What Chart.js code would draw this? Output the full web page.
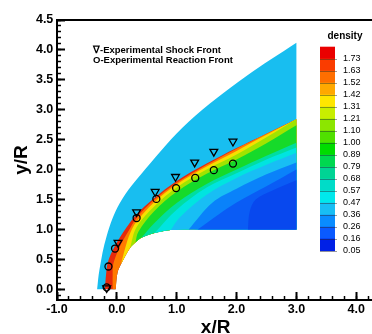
<!DOCTYPE html>
<html><head><meta charset="utf-8">
<script src="https://cdn.jsdelivr.net/npm/chart.js@4.4.1/dist/chart.umd.min.js"></script>
<style>html,body{margin:0;padding:0;background:#fff;overflow:hidden}#wrap{width:380px;height:334px}</style>
</head><body><div id="wrap"><canvas id="c" width="380" height="334"></canvas></div>
<script>
// ---- experimental data (x/R, y/R) ----
const shockFrontX = [-0.17, 0.02, 0.33, 0.64, 0.98, 1.30, 1.62, 1.94];
const shockFrontY = [0.02, 0.78, 1.29, 1.63, 1.88, 2.12, 2.30, 2.47];
const reactionFrontX = [-0.17, -0.14, -0.03, 0.33, 0.66, 0.99, 1.31, 1.62, 1.94];
const reactionFrontY = [0.03, 0.38, 0.68, 1.19, 1.51, 1.69, 1.86, 1.99, 2.10];

// ---- computed density field: iso-density edges ----
const bodyWall = [[-0.02,0],[0.01,0.27],[0.07,0.42],[0.22,0.69],[0.31,0.78],[0.41,0.86],[0.63,0.94],[0.9,0.99],[1.2,1.0],[1.35,1.0],[2.19,1.0],[3.0,1.0]];
const outerEdge = [[-0.33,0],[-0.29,0.33],[-0.17,0.89],[0.05,1.44],[0.47,2.0],[1.2,2.8],[2.16,3.56],[3.0,4.12]];
const shockEdge = [[-0.20,0],[-0.18,0.25],[-0.15,0.45],[-0.05,0.69],[0.16,1.03],[0.33,1.25],[0.62,1.52],[1.0,1.81],[1.5,2.10],[2.0,2.36],[2.5,2.60],[3.0,2.84]];
const redEdge = [[-0.07,0],[-0.07,0.25],[-0.06,0.42],[0.04,0.69],[0.20,0.98],[0.33,1.19],[0.62,1.49],[1.0,1.78],[1.5,2.08],[2.0,2.35],[2.5,2.60],[3.0,2.84]];
const orangeEdge = [[0.07,0.42],[0.14,0.69],[0.22,0.93],[0.33,1.13],[0.62,1.45],[1.0,1.75],[1.5,2.05],[2.0,2.31],[2.5,2.58],[3.0,2.84]];
const yellowEdge = [[0.22,0.69],[0.33,1.04],[0.62,1.38],[1.0,1.70],[1.5,2.00],[2.0,2.25],[2.5,2.54],[3.0,2.84]];
const yGreenEdge = [[0.31,0.78],[0.36,0.96],[0.62,1.30],[1.0,1.63],[1.5,1.93],[2.0,2.17],[2.5,2.44],[3.0,2.74]];
const greenEdge = [[0.41,0.86],[0.62,1.10],[1.0,1.44],[1.5,1.76],[2.0,2.0],[2.5,2.23],[3.0,2.45]];
const cyanGreenEdge = [[0.63,0.94],[1.0,1.33],[1.5,1.70],[2.0,1.94],[2.5,2.17],[3.0,2.37]];
const cyanEdge = [[0.9,0.99],[1.05,1.2],[1.5,1.58],[2.0,1.86],[2.5,2.08],[3.0,2.28]];
const lightBlueEdge = [[1.2,1.0],[1.6,1.45],[2.0,1.68],[2.5,1.92],[3.0,2.12]];
const midBlueEdge = [[1.35,1.0],[1.7,1.25],[2.0,1.45],[2.5,1.72],[3.0,2.0]];
const blueEdge = [[2.19,1.0],[2.22,1.3],[2.32,1.5],[2.6,1.65],[3.0,1.82]];

const bandEdges = [outerEdge, shockEdge, redEdge, orangeEdge, yellowEdge, yGreenEdge, greenEdge, cyanGreenEdge, cyanEdge, lightBlueEdge, midBlueEdge, blueEdge];
const bandColors = ['#18BEF0','#E62A0C','#FF7A00','#F7E000','#A0E400','#16DA2A','#00DEA0','#00E4E0','#18BEF4','#0A82FA','#0A5CF5','#0848EE'];

// ---- colour legend ----
const densityLevels = ['1.73','1.63','1.52','1.42','1.31','1.21','1.10','1.00','0.89','0.79','0.68','0.57','0.47','0.36','0.26','0.16','0.05'];
const levelColors = ['#EA0000','#FA3C00','#FF6E00','#FFA800','#FFE600','#C8EE00','#8CE600','#50E000','#00DC00','#00D850','#00D494','#00DCC8','#00E8EC','#18BEF4','#0A8CFF','#0A5AFF','#0020E6'];

Chart.defaults.font.family = "'Liberation Sans', Arial, sans-serif";

function regionPolygon(edge) {
  const x0 = edge[0][0];
  const wall = bodyWall.filter(p => p[0] >= x0 - 1e-9).reverse();
  const last = edge[edge.length - 1];
  return [...edge, last, wall[0], ...wall].map(p => ({x: p[0], y: p[1]}));
}

const datasets = bandEdges.map((edge, i) => ({
  data: regionPolygon(edge), showLine: true, fill: 'shape', tension: 0.35,
  backgroundColor: bandColors[i], borderColor: 'rgba(0,0,0,0)', borderWidth: 0,
  pointRadius: 0, order: 100 - i
}));
datasets.push({
  data: shockFrontX.map((x, i) => ({x, y: shockFrontY[i]})), pointStyle: 'triangle', rotation: 180,
  pointRadius: 4.5, borderColor: '#000', backgroundColor: 'rgba(0,0,0,0)', borderWidth: 1.3, order: 1
});
datasets.push({
  data: reactionFrontX.map((x, i) => ({x, y: reactionFrontY[i]})), pointStyle: 'circle',
  pointRadius: 3.5, borderColor: '#000', backgroundColor: 'rgba(0,0,0,0)', borderWidth: 1.3, order: 0
});

const decor = {
  id: 'decor',
  afterDraw(chart) {
    const ctx = chart.ctx;
    ctx.save();
    ctx.fillStyle = '#000';
    ctx.textBaseline = 'middle';
    ctx.textAlign = 'left';
    ctx.font = "bold 9.5px 'Liberation Sans', Arial, sans-serif";
    ctx.fillText('\u2207-Experimental Shock Front', 93, 50.5);
    ctx.fillText('O-Experimental Reaction Front', 93, 60);
    // colour bar
    ctx.font = "bold 10px 'Liberation Sans', Arial, sans-serif";
    ctx.textAlign = 'center';
    ctx.fillText('density', 345, 36.5);
    const bx = 320, bw = 15, top = 46.7, step = 12;
    levelColors.forEach((c, i) => { ctx.fillStyle = c; ctx.fillRect(bx, top + i * step, bw, step + 0.4); });
    ctx.font = "9px 'Liberation Sans', Arial, sans-serif";
    ctx.textAlign = 'left';
    densityLevels.forEach((lab, i) => {
      const y = top + step * (i + 1);
      ctx.strokeStyle = 'rgba(40,40,40,0.45)'; ctx.lineWidth = 1;
      ctx.beginPath(); ctx.moveTo(bx, Math.round(y) + 0.5); ctx.lineTo(bx + bw + 2, Math.round(y) + 0.5); ctx.stroke();
      ctx.fillStyle = '#000';
      ctx.fillText(lab, 343, y);
    });
    ctx.restore();
  }
};

const tickFont = {size: 12.5, weight: 'bold'};
new Chart(document.getElementById('c'), {
  type: 'scatter',
  data: {datasets},
  options: {
    responsive: false, animation: false, events: [],
    layout: {padding: {top: 20, right: 4, left: 0, bottom: 0}},
    plugins: {legend: {display: false}, tooltip: {enabled: false}},
    scales: {
      x: {type: 'linear', position: 'bottom', weight: 1, min: -1, max: 4.3,
        ticks: {stepSize: 1, includeBounds: false, autoSkip: false, maxRotation: 0, padding: 10.5, color: '#000', font: tickFont,
          callback: v => Number(v).toFixed(1)},
        grid: {drawOnChartArea: false, drawTicks: true, tickLength: -8, tickWidth: 2, tickColor: '#000'},
        border: {display: true, color: '#000', width: 2},
        title: {display: true, text: 'x/R', color: '#000', font: {size: 19, weight: 'bold'}, padding: {top: 0, bottom: -5}},
        afterFit(s) { s.height = 34; }},
      xMinor: {type: 'linear', position: 'bottom', weight: 0, min: -1, max: 4.3,
        ticks: {display: false, stepSize: 0.2, includeBounds: false, autoSkip: false},
        grid: {drawOnChartArea: false, drawTicks: true, tickLength: -4, tickWidth: 1.5, tickColor: '#000'},
        border: {display: false},
        afterFit(s) { s.height = 0; }},
      xTop: {type: 'linear', position: 'top', min: -1, max: 4.3,
        ticks: {display: false},
        grid: {drawOnChartArea: false, drawTicks: false},
        border: {display: true, color: '#000', width: 2},
        afterFit(s) { s.height = 0; }},
      y: {type: 'linear', position: 'left', weight: 1, min: -0.18, max: 4.5,
        ticks: {stepSize: 0.5, includeBounds: false, autoSkip: false, padding: 11.7, color: '#000', font: tickFont,
          callback: v => Number(v).toFixed(1)},
        grid: {drawOnChartArea: false, drawTicks: true, tickLength: -8, tickWidth: 2, tickColor: '#000'},
        border: {display: true, color: '#000', width: 2},
        title: {display: true, text: 'y/R', color: '#000', font: {size: 19, weight: 'bold'}, padding: {top: 10.6, bottom: 0}},
        afterFit(s) { s.width = 57; }},
      yMinor: {type: 'linear', position: 'left', weight: 0, min: -0.18, max: 4.5,
        ticks: {display: false, stepSize: 0.1, includeBounds: false, autoSkip: false},
        grid: {drawOnChartArea: false, drawTicks: true, tickLength: -4, tickWidth: 1.5, tickColor: '#000'},
        border: {display: false},
        afterFit(s) { s.width = 0; }}
    }
  },
  plugins: [decor]
});
</script></body></html>
